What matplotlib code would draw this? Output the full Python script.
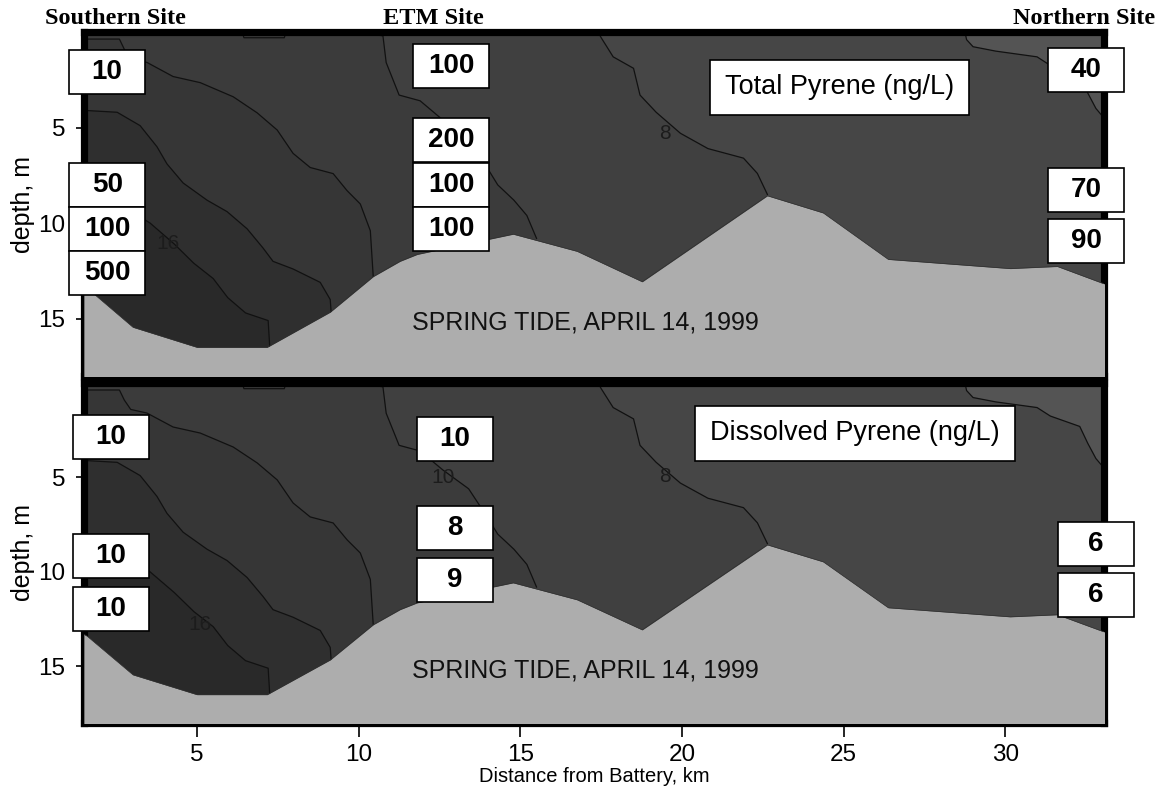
import numpy as np
import matplotlib
matplotlib.use("Agg")
import matplotlib.pyplot as plt
from matplotlib.patches import Rectangle

plt.rcParams['font.family'] = ['Liberation Sans', 'DejaVu Sans']

# channel bottom along the section (km from Battery, depth in m)
bed_km = [1.5, 1.6, 3.02, 5.0, 7.17, 9.12, 10.45, 11.28, 11.81, 14.78, 16.76,
          18.77, 22.64, 24.37, 26.38, 30.15, 31.61, 32.88, 33.1]
bed_depth = [13.3, 13.4, 15.45, 16.5, 16.5, 14.66, 12.8, 12.0, 11.64, 10.58, 11.48,
             13.07, 8.57, 9.47, 11.9, 12.38, 12.27, 13.07, 13.2]

# salinity isolines, listed from the saltiest (south) to the freshest (north)
iso16_km = [1.5, 2.6, 3.55, 4.3, 4.9, 5.5, 5.95, 6.5, 7.2, 7.25]
iso16_dep = [8.6, 9.0, 10.0, 11.1, 12.1, 12.9, 13.9, 14.7, 15.1, 16.5]
iso14_km = [1.5, 2.53, 3.24, 3.76, 4.07, 4.57, 5.31, 5.93, 6.55, 7.04, 7.35, 7.97, 8.81, 9.12, 9.15]
iso14_dep = [4.1, 4.2, 4.9, 6.0, 6.9, 7.9, 8.8, 9.4, 10.3, 11.3, 12.0, 12.4, 13.1, 14.0, 14.7]
iso12_km = [1.5, 2.6, 2.75, 2.95, 3.45, 4.26, 5.1, 6.12, 6.86, 7.48, 7.97, 8.5, 9.21,
            9.64, 10.05, 10.36, 10.45]
iso12_dep = [0.37, 0.37, 0.9, 1.4, 1.59, 2.33, 2.65, 3.39, 4.23, 5.13, 6.35, 7.09, 7.41,
             8.3, 9.0, 10.4, 12.8]
iso10_km = [9.95, 10.75, 10.85, 11.25, 11.9, 12.6, 13.4, 13.9, 14.3, 14.8, 15.2, 15.5]
iso10_dep = [0.0, 0.2, 1.6, 3.3, 3.6, 4.6, 5.6, 6.9, 8.0, 8.8, 9.6, 10.8]
iso8_km = [17.4, 17.5, 17.87, 18.5, 18.7, 19.2, 19.95, 20.8, 21.9, 22.33, 22.64]
iso8_dep = [0.0, 0.3, 1.3, 1.9, 3.3, 4.2, 5.3, 6.1, 6.6, 7.4, 8.5]
iso6_km = [28.75, 28.8, 29.0, 29.7, 30.98, 31.39, 32.3, 32.55, 32.8, 33.1]
iso6_dep = [0.0, 0.4, 0.77, 1.0, 1.3, 1.75, 2.3, 3.2, 4.0, 4.6]

# pyrene concentrations (ng/L) at the three stations
total_south = ['10', '50', '100', '500']
total_south_dep = [2.1, 8.0, 10.3, 12.6]
total_etm = ['100', '200', '100', '100']
total_etm_dep = [1.8, 5.65, 8.0, 10.3]
total_north = ['40', '70', '90']
total_north_dep = [2.0, 8.27, 10.94]

diss_south = ['10', '10', '10']
diss_south_dep = [2.86, 9.15, 11.96]
diss_etm = ['10', '8', '9']
diss_etm_dep = [2.99, 7.67, 10.45]
diss_north = ['6', '6']
diss_north_dep = [8.5, 11.24]

xticks = [5, 10, 15, 20, 25, 30]
yticks = [5, 10, 15]

X0, X1 = 1.52, 33.05
D0, D1 = 0.0, 18.0

isolines = [(iso6_km, iso6_dep, '#464646'),
            (iso8_km, iso8_dep, '#404040'),
            (iso10_km, iso10_dep, '#3b3b3b'),
            (iso12_km, iso12_dep, '#363636'),
            (iso14_km, iso14_dep, '#2f2f2f'),
            (iso16_km, iso16_dep, '#292929')]
top_color = '#545454'
bed_color = '#adadad'


def draw_section(ax):
    ax.set_facecolor(top_color)
    # fill each salinity band, saltiest side drawn last
    for km, dep, col in isolines:
        px = list(km) + [km[-1], 0.5, 0.5]
        py = list(dep) + [19.5, 19.5, dep[0] if km[0] <= X0 else 0.0]
        if km[0] > X0:
            px = [0.5] + px[:-1]
            py = [0.0] + py[:-1]
            px.append(0.5)
            py.append(19.5)
        ax.fill(px, py, color=col, lw=0, zorder=1)
    for km, dep, col in isolines:
        ax.plot(km, dep, color='#111111', lw=0.9, zorder=2)
    ax.plot([6.4, 6.45, 7.7, 7.75], [0.0, 0.3, 0.3, 0.0], color='#111111', lw=0.9, zorder=2)
    ax.fill_between(bed_km, bed_depth, 19.5, color=bed_color, lw=0, zorder=3)
    ax.plot(bed_km, bed_depth, color='#303030', lw=0.5, zorder=3)
    ax.text(17.0, 15.2, 'SPRING TIDE, APRIL 14, 1999', ha='center', va='center',
            fontsize=18, color='#111111', zorder=4)
    ax.set_xlim(X0, X1)
    ax.set_ylim(D1, D0)
    ax.set_yticks(yticks)
    ax.set_xticks(xticks)
    for s in ax.spines.values():
        s.set_linewidth(5.2)
        s.set_color('black')
    ax.tick_params(axis='y', direction='out', length=6, width=1.2, labelsize=17.5, pad=8)
    ax.set_ylabel('depth, m', fontsize=18, labelpad=2)


def value_boxes(ax, km, deps, vals, h):
    w = 2.35
    for d, v in zip(deps, vals):
        ax.add_patch(Rectangle((km - w / 2, d - h / 2), w, h, facecolor='white',
                               edgecolor='black', lw=1.2, clip_on=False, zorder=6))
        ax.text(km, d, v, ha='center', va='center', fontsize=20, fontweight='bold',
                clip_on=False, zorder=7)


fig = plt.figure(figsize=(11.58, 7.97), dpi=100)
ax1 = fig.add_axes([0.07297, 0.52823, 0.8804, 0.43162])
ax2 = fig.add_axes([0.07297, 0.09285, 0.8804, 0.42660])

draw_section(ax1)
draw_section(ax2)
ax1.tick_params(axis='x', bottom=False, labelbottom=False)
ax2.tick_params(axis='x', direction='out', length=10, width=1.2, labelsize=17.5, pad=5)
ax2.set_xlabel('Distance from Battery, km', fontsize=14.5, labelpad=1)

# isoline labels
lab = dict(fontsize=15, color='#1c1c1c', ha='center', va='center', zorder=2)
ax1.text(4.1, 11.05, '16', **lab)
ax1.text(19.48, 5.3, '8', **lab)
ax2.text(5.1, 12.8, '16', **lab)
ax2.text(12.6, 5.0, '10', **lab)
ax2.text(19.48, 4.97, '8', **lab)

value_boxes(ax1, 2.22, total_south_dep, total_south, 2.3)
value_boxes(ax1, 12.86, total_etm_dep, total_etm, 2.3)
value_boxes(ax1, 32.5, total_north_dep, total_north, 2.3)
value_boxes(ax2, 2.34, diss_south_dep, diss_south, 2.33)
value_boxes(ax2, 12.98, diss_etm_dep, diss_etm, 2.33)
value_boxes(ax2, 32.79, diss_north_dep, diss_north, 2.33)

box = dict(boxstyle='square,pad=0.55', facecolor='white', edgecolor='black', lw=1.2)
ax1.text(24.87, 2.9, 'Total Pyrene (ng/L)', ha='center', va='center', fontsize=19.5,
         bbox=box, zorder=6)
ax2.text(25.35, 2.67, 'Dissolved Pyrene (ng/L)', ha='center', va='center', fontsize=19.5,
         bbox=box, zorder=6)

site_font = dict(family=['Liberation Serif', 'DejaVu Serif'], fontweight='bold',
                 fontsize=17.5, va='center')
fig.text(45 / 1158, 1 - 18 / 797, 'Southern Site', ha='left', **site_font)
fig.text(433 / 1158, 1 - 18 / 797, 'ETM Site', ha='center', **site_font)
fig.text(1155 / 1158, 1 - 18 / 797, 'Northern Site', ha='right', **site_font)

fig.savefig('out.png', dpi=100)
